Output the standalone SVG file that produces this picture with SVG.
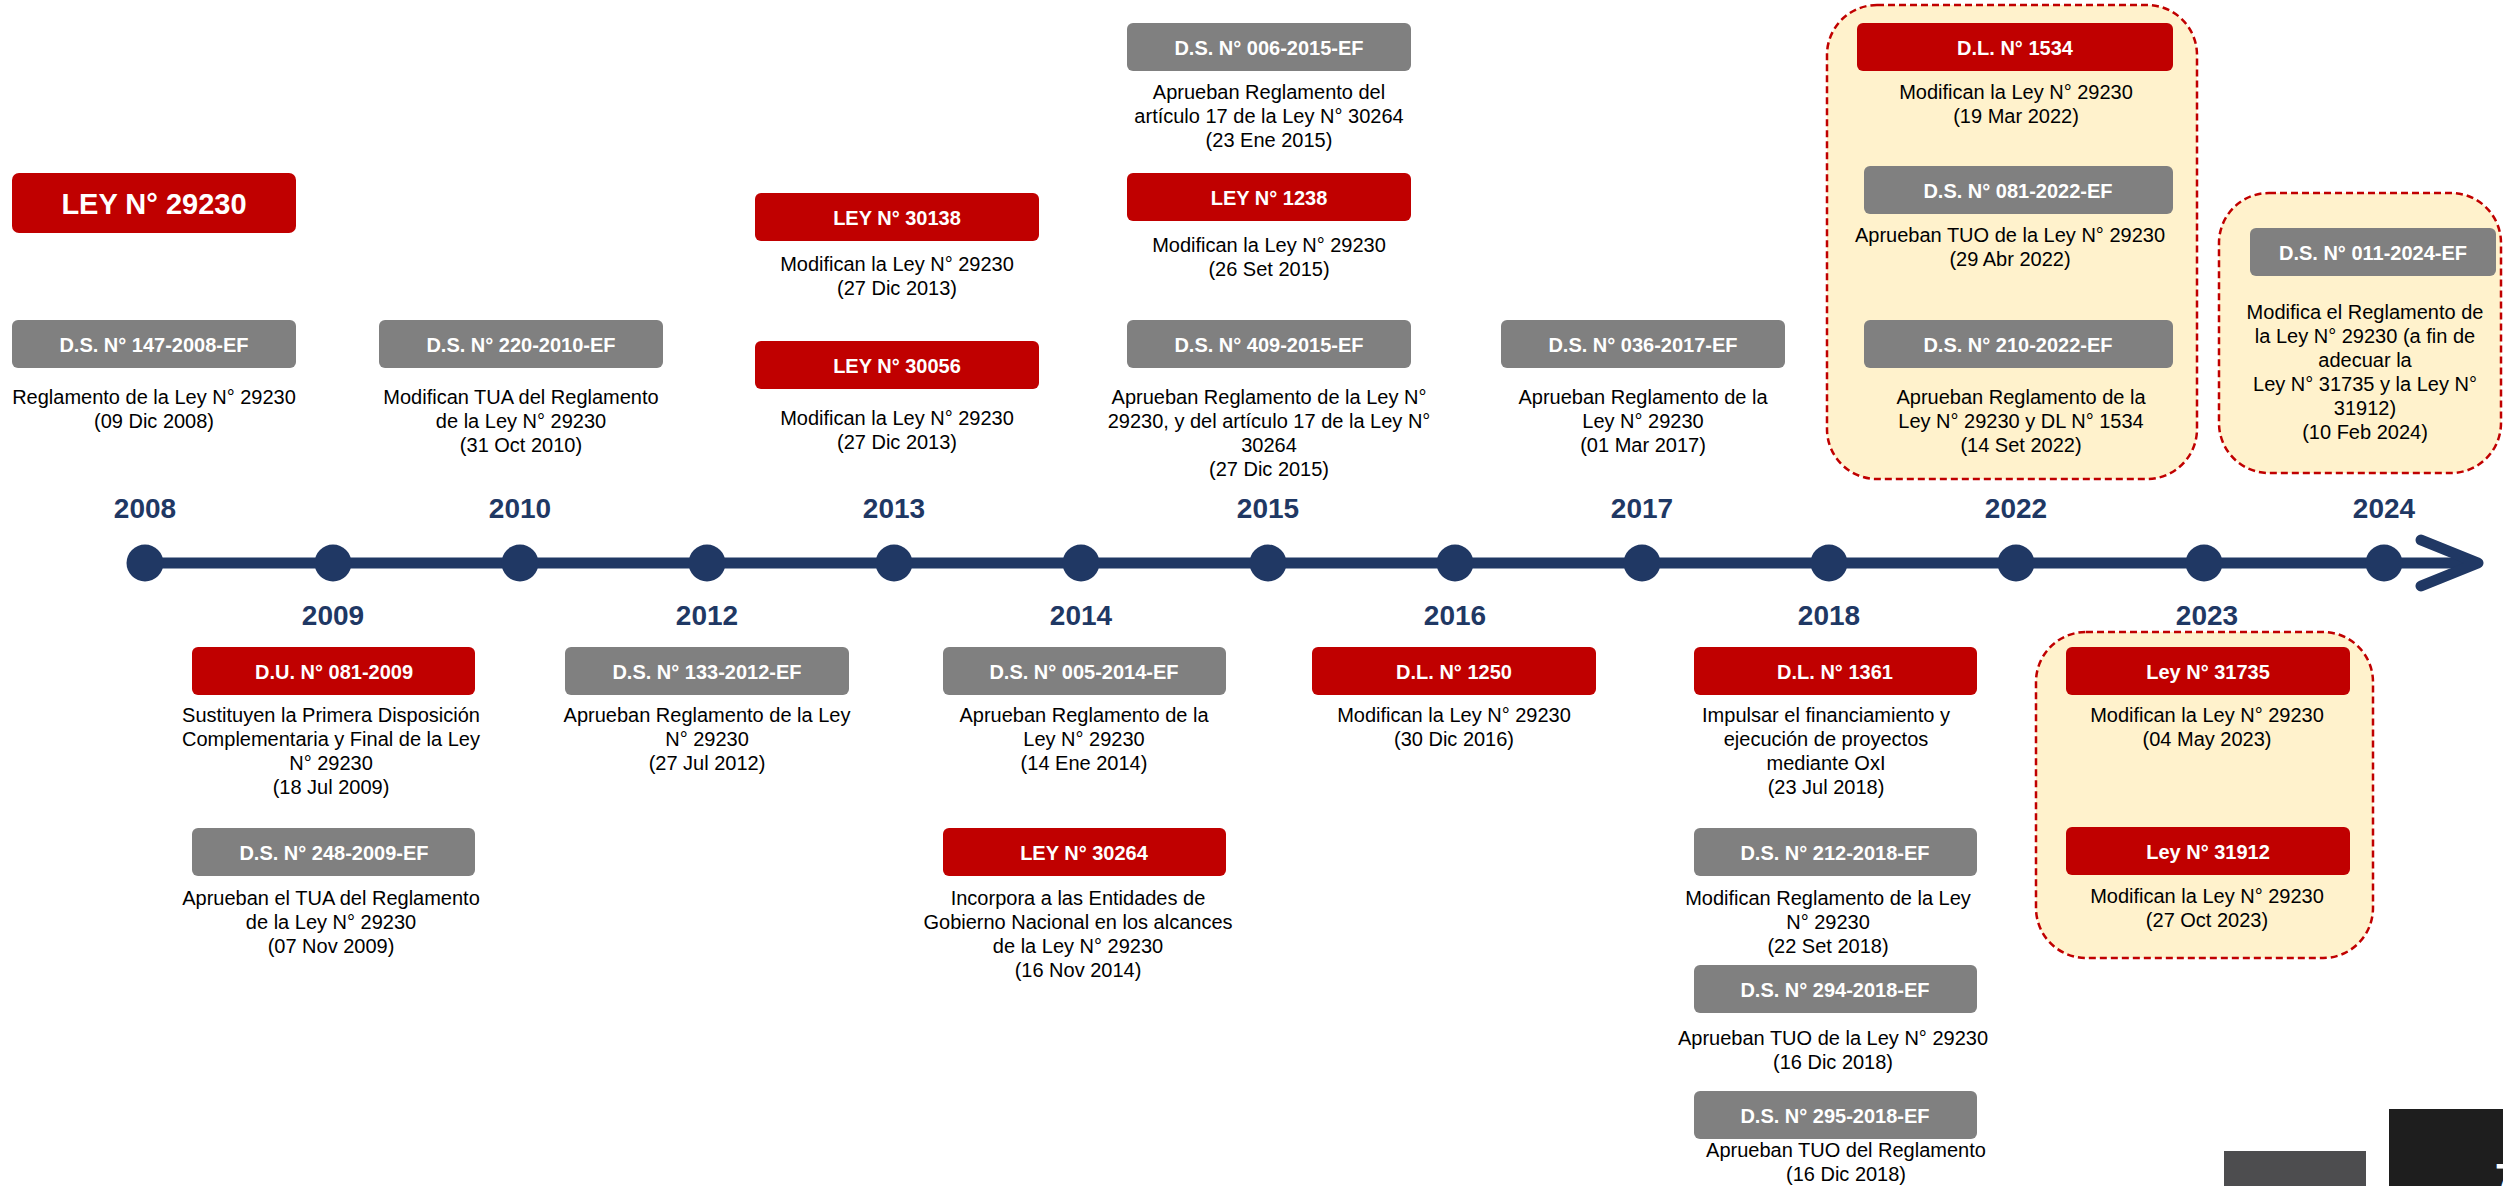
<svg xmlns="http://www.w3.org/2000/svg" width="2503" height="1186" viewBox="0 0 2503 1186">
<style>
.red{fill:#C00000}
.gray{fill:#808080}
.grp{fill:#FFF2CC;stroke:#C00000;stroke-width:2.5;stroke-dasharray:7 4}
.bt{font-family:"Liberation Sans",Arial,sans-serif;font-weight:bold;font-size:20px;fill:#FFFFFF;text-anchor:middle}
.big{font-family:"Liberation Sans",Arial,sans-serif;font-weight:bold;font-size:29px;fill:#FFFFFF;text-anchor:middle}
.d{font-family:"Liberation Sans",Arial,sans-serif;font-size:20px;fill:#000000;text-anchor:middle}
.yr{font-family:"Liberation Sans",Arial,sans-serif;font-weight:bold;font-size:28px;fill:#1F3864;text-anchor:middle}
.dot{fill:#203864}
</style>
<rect width="2503" height="1186" fill="#FFFFFF"/>

<g id="connectors">
<line x1="145" y1="563" x2="2472" y2="563" stroke="#203864" stroke-width="11"/>
<polyline points="2421,540 2478,563 2421,586" fill="none" stroke="#203864" stroke-width="11" stroke-linecap="round" stroke-linejoin="round"/>
</g>

<g id="timeline-dots">
<circle class="dot" cx="145" cy="563" r="18.5"/>
<circle class="dot" cx="333" cy="563" r="18.5"/>
<circle class="dot" cx="520" cy="563" r="18.5"/>
<circle class="dot" cx="707" cy="563" r="18.5"/>
<circle class="dot" cx="894" cy="563" r="18.5"/>
<circle class="dot" cx="1081" cy="563" r="18.5"/>
<circle class="dot" cx="1268" cy="563" r="18.5"/>
<circle class="dot" cx="1455" cy="563" r="18.5"/>
<circle class="dot" cx="1642" cy="563" r="18.5"/>
<circle class="dot" cx="1829" cy="563" r="18.5"/>
<circle class="dot" cx="2016" cy="563" r="18.5"/>
<circle class="dot" cx="2204" cy="563" r="18.5"/>
<circle class="dot" cx="2384" cy="563" r="18.5"/>
</g>

<g id="years">
<text class="yr" x="145" y="518">2008</text>
<text class="yr" x="520" y="518">2010</text>
<text class="yr" x="894" y="518">2013</text>
<text class="yr" x="1268" y="518">2015</text>
<text class="yr" x="1642" y="518">2017</text>
<text class="yr" x="2016" y="518">2022</text>
<text class="yr" x="2384" y="518">2024</text>
<text class="yr" x="333" y="625">2009</text>
<text class="yr" x="707" y="625">2012</text>
<text class="yr" x="1081" y="625">2014</text>
<text class="yr" x="1455" y="625">2016</text>
<text class="yr" x="1829" y="625">2018</text>
<text class="yr" x="2207" y="625">2023</text>
</g>

<g id="groups">
<rect class="grp" x="1827" y="5" width="370" height="474" rx="50"/>
<rect class="grp" x="2219" y="193" width="282" height="280" rx="50"/>
<rect class="grp" x="2036" y="632" width="337" height="326" rx="50"/>
</g>

<g id="ley29230">
<rect class="red" x="12" y="173" width="284" height="60" rx="7"/>
<text class="big" x="154" y="214">LEY N° 29230</text>
</g>

<g id="ds147-2008">
<rect class="gray" x="12" y="320" width="284" height="48" rx="6"/>
<text class="bt" x="154" y="352">D.S. N° 147-2008-EF</text>
<text class="d" x="154" y="404">Reglamento de la Ley N° 29230</text>
<text class="d" x="154" y="428">(09 Dic 2008)</text>
</g>

<g id="ds220-2010">
<rect class="gray" x="379" y="320" width="284" height="48" rx="6"/>
<text class="bt" x="521" y="352">D.S. N° 220-2010-EF</text>
<text class="d" x="521" y="404">Modifican TUA del Reglamento</text>
<text class="d" x="521" y="428">de la Ley N° 29230</text>
<text class="d" x="521" y="452">(31 Oct 2010)</text>
</g>

<g id="ley30138">
<rect class="red" x="755" y="193" width="284" height="48" rx="6"/>
<text class="bt" x="897" y="225">LEY N° 30138</text>
<text class="d" x="897" y="271">Modifican la Ley N° 29230</text>
<text class="d" x="897" y="295">(27 Dic 2013)</text>
</g>

<g id="ley30056">
<rect class="red" x="755" y="341" width="284" height="48" rx="6"/>
<text class="bt" x="897" y="373">LEY N° 30056</text>
<text class="d" x="897" y="425">Modifican la Ley N° 29230</text>
<text class="d" x="897" y="449">(27 Dic 2013)</text>
</g>

<g id="ds006-2015">
<rect class="gray" x="1127" y="23" width="284" height="48" rx="6"/>
<text class="bt" x="1269" y="55">D.S. N° 006-2015-EF</text>
<text class="d" x="1269" y="99">Aprueban Reglamento del</text>
<text class="d" x="1269" y="123">artículo 17 de la Ley N° 30264</text>
<text class="d" x="1269" y="147">(23 Ene 2015)</text>
</g>

<g id="ley1238">
<rect class="red" x="1127" y="173" width="284" height="48" rx="6"/>
<text class="bt" x="1269" y="205">LEY N° 1238</text>
<text class="d" x="1269" y="252">Modifican la Ley N° 29230</text>
<text class="d" x="1269" y="276">(26 Set 2015)</text>
</g>

<g id="ds409-2015">
<rect class="gray" x="1127" y="320" width="284" height="48" rx="6"/>
<text class="bt" x="1269" y="352">D.S. N° 409-2015-EF</text>
<text class="d" x="1269" y="404">Aprueban Reglamento de la Ley N°</text>
<text class="d" x="1269" y="428">29230, y del artículo 17 de la Ley N°</text>
<text class="d" x="1269" y="452">30264</text>
<text class="d" x="1269" y="476">(27 Dic 2015)</text>
</g>

<g id="ds036-2017">
<rect class="gray" x="1501" y="320" width="284" height="48" rx="6"/>
<text class="bt" x="1643" y="352">D.S. N° 036-2017-EF</text>
<text class="d" x="1643" y="404">Aprueban Reglamento de la</text>
<text class="d" x="1643" y="428">Ley N° 29230</text>
<text class="d" x="1643" y="452">(01 Mar 2017)</text>
</g>

<g id="dl1534">
<rect class="red" x="1857" y="23" width="316" height="48" rx="6"/>
<text class="bt" x="2015" y="55">D.L. N° 1534</text>
<text class="d" x="2016" y="99">Modifican la Ley N° 29230</text>
<text class="d" x="2016" y="123">(19 Mar 2022)</text>
</g>

<g id="ds081-2022">
<rect class="gray" x="1864" y="166" width="309" height="48" rx="6"/>
<text class="bt" x="2018" y="198">D.S. N° 081-2022-EF</text>
<text class="d" x="2010" y="242">Aprueban TUO de la Ley N° 29230</text>
<text class="d" x="2010" y="266">(29 Abr 2022)</text>
</g>

<g id="ds210-2022">
<rect class="gray" x="1864" y="320" width="309" height="48" rx="6"/>
<text class="bt" x="2018" y="352">D.S. N° 210-2022-EF</text>
<text class="d" x="2021" y="404">Aprueban Reglamento de la</text>
<text class="d" x="2021" y="428">Ley N° 29230 y DL N° 1534</text>
<text class="d" x="2021" y="452">(14 Set 2022)</text>
</g>

<g id="ds011-2024">
<rect class="gray" x="2250" y="228" width="246" height="48" rx="6"/>
<text class="bt" x="2373" y="260">D.S. N° 011-2024-EF</text>
<text class="d" x="2365" y="319">Modifica el Reglamento de</text>
<text class="d" x="2365" y="343">la Ley N° 29230 (a fin de</text>
<text class="d" x="2365" y="367">adecuar la</text>
<text class="d" x="2365" y="391">Ley N° 31735 y la Ley N°</text>
<text class="d" x="2365" y="415">31912)</text>
<text class="d" x="2365" y="439">(10 Feb 2024)</text>
</g>

<g id="du081-2009">
<rect class="red" x="192" y="647" width="283" height="48" rx="6"/>
<text class="bt" x="334" y="679">D.U. N° 081-2009</text>
<text class="d" x="331" y="722">Sustituyen la Primera Disposición</text>
<text class="d" x="331" y="746">Complementaria y Final de la Ley</text>
<text class="d" x="331" y="770">N° 29230</text>
<text class="d" x="331" y="794">(18 Jul 2009)</text>
</g>

<g id="ds248-2009">
<rect class="gray" x="192" y="828" width="283" height="48" rx="6"/>
<text class="bt" x="334" y="860">D.S. N° 248-2009-EF</text>
<text class="d" x="331" y="905">Aprueban el TUA del Reglamento</text>
<text class="d" x="331" y="929">de la Ley N° 29230</text>
<text class="d" x="331" y="953">(07 Nov 2009)</text>
</g>

<g id="ds133-2012">
<rect class="gray" x="565" y="647" width="284" height="48" rx="6"/>
<text class="bt" x="707" y="679">D.S. N° 133-2012-EF</text>
<text class="d" x="707" y="722">Aprueban Reglamento de la Ley</text>
<text class="d" x="707" y="746">N° 29230</text>
<text class="d" x="707" y="770">(27 Jul 2012)</text>
</g>

<g id="ds005-2014">
<rect class="gray" x="943" y="647" width="283" height="48" rx="6"/>
<text class="bt" x="1084" y="679">D.S. N° 005-2014-EF</text>
<text class="d" x="1084" y="722">Aprueban Reglamento de la</text>
<text class="d" x="1084" y="746">Ley N° 29230</text>
<text class="d" x="1084" y="770">(14 Ene 2014)</text>
</g>

<g id="ley30264">
<rect class="red" x="943" y="828" width="283" height="48" rx="6"/>
<text class="bt" x="1084" y="860">LEY N° 30264</text>
<text class="d" x="1078" y="905">Incorpora a las Entidades de</text>
<text class="d" x="1078" y="929">Gobierno Nacional en los alcances</text>
<text class="d" x="1078" y="953">de la Ley N° 29230</text>
<text class="d" x="1078" y="977">(16 Nov 2014)</text>
</g>

<g id="dl1250">
<rect class="red" x="1312" y="647" width="284" height="48" rx="6"/>
<text class="bt" x="1454" y="679">D.L. N° 1250</text>
<text class="d" x="1454" y="722">Modifican la Ley N° 29230</text>
<text class="d" x="1454" y="746">(30 Dic 2016)</text>
</g>

<g id="dl1361">
<rect class="red" x="1694" y="647" width="283" height="48" rx="6"/>
<text class="bt" x="1835" y="679">D.L. N° 1361</text>
<text class="d" x="1826" y="722">Impulsar el financiamiento y</text>
<text class="d" x="1826" y="746">ejecución de proyectos</text>
<text class="d" x="1826" y="770">mediante OxI</text>
<text class="d" x="1826" y="794">(23 Jul 2018)</text>
</g>

<g id="ds212-2018">
<rect class="gray" x="1694" y="828" width="283" height="48" rx="6"/>
<text class="bt" x="1835" y="860">D.S. N° 212-2018-EF</text>
<text class="d" x="1828" y="905">Modifican Reglamento de la Ley</text>
<text class="d" x="1828" y="929">N° 29230</text>
<text class="d" x="1828" y="953">(22 Set 2018)</text>
</g>

<g id="ds294-2018">
<rect class="gray" x="1694" y="965" width="283" height="48" rx="6"/>
<text class="bt" x="1835" y="997">D.S. N° 294-2018-EF</text>
<text class="d" x="1833" y="1045">Aprueban TUO de la Ley N° 29230</text>
<text class="d" x="1833" y="1069">(16 Dic 2018)</text>
</g>

<g id="ds295-2018">
<rect class="gray" x="1694" y="1091" width="283" height="48" rx="6"/>
<text class="bt" x="1835" y="1123">D.S. N° 295-2018-EF</text>
<text class="d" x="1846" y="1157">Aprueban TUO del Reglamento</text>
<text class="d" x="1846" y="1181">(16 Dic 2018)</text>
</g>

<g id="ley31735">
<rect class="red" x="2066" y="647" width="284" height="48" rx="6"/>
<text class="bt" x="2208" y="679">Ley N° 31735</text>
<text class="d" x="2207" y="722">Modifican la Ley N° 29230</text>
<text class="d" x="2207" y="746">(04 May 2023)</text>
</g>

<g id="ley31912">
<rect class="red" x="2066" y="827" width="284" height="48" rx="6"/>
<text class="bt" x="2208" y="859">Ley N° 31912</text>
<text class="d" x="2207" y="903">Modifican la Ley N° 29230</text>
<text class="d" x="2207" y="927">(27 Oct 2023)</text>
</g>

<g id="corner">
<rect x="2224" y="1151" width="142" height="40" fill="#4D4D4F"/>
<rect x="2389" y="1109" width="120" height="80" fill="#1E1E1E"/>
<text x="2495" y="1192" font-family="Liberation Sans, Arial, sans-serif" font-weight="bold" font-size="40" fill="#FFFFFF">7</text>
</g>
</svg>
